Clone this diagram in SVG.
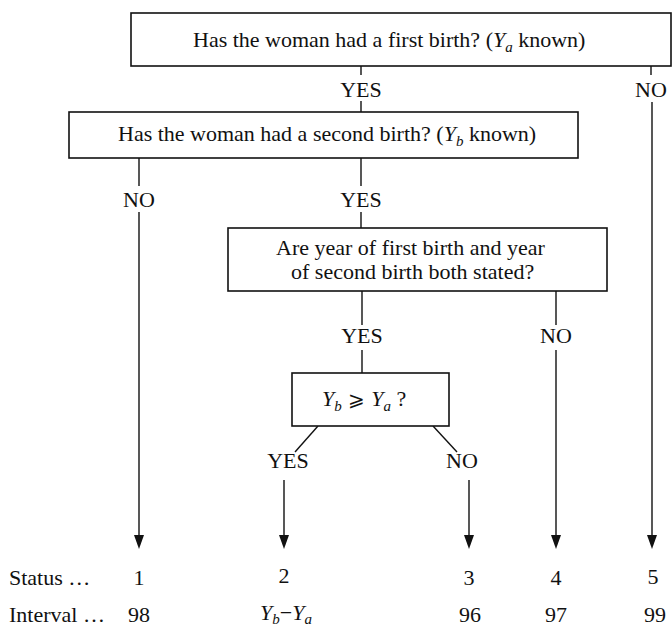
<svg xmlns="http://www.w3.org/2000/svg" width="672" height="629" viewBox="0 0 672 629">
<defs>
<style>
text{font-family:"Liberation Serif","Times New Roman",serif;font-size:22px;fill:#111}
.m{text-anchor:middle}
.i{font-style:italic}
.box{fill:#fff;stroke:#111;stroke-width:1.6}
.ln{stroke:#111;stroke-width:1.4;fill:none}
.hd{fill:#111}
</style>
</defs>
<rect width="672" height="629" fill="#fff"/>
<g id="connectors">
<line class="ln" x1="361" y1="66" x2="361" y2="75"/>
<line class="ln" x1="651" y1="66" x2="651" y2="75"/>
<line class="ln" x1="361" y1="101" x2="361" y2="112"/>
<line class="ln" x1="139" y1="158" x2="139" y2="186"/>
<line class="ln" x1="361" y1="158" x2="361" y2="186"/>
<line class="ln" x1="361" y1="212" x2="361" y2="228"/>
<line class="ln" x1="362" y1="291" x2="362" y2="325"/>
<line class="ln" x1="556" y1="291" x2="556" y2="325"/>
<line class="ln" x1="362" y1="350" x2="362" y2="373"/>
<line class="ln" x1="318" y1="426" x2="295" y2="452"/>
<line class="ln" x1="433" y1="426" x2="457" y2="452"/>
<path class="ln" d="M139,212 V536"/>
<path class="hd" d="M134,535 L144,535 L139,549 Z"/>
<path class="ln" d="M284,480 V536"/>
<path class="hd" d="M279,535 L289,535 L284,549 Z"/>
<path class="ln" d="M469,480 V536"/>
<path class="hd" d="M464,535 L474,535 L469,549 Z"/>
<path class="ln" d="M556,350 V536"/>
<path class="hd" d="M551,535 L561,535 L556,549 Z"/>
<path class="ln" d="M652,102 V536"/>
<path class="hd" d="M647,535 L657,535 L652,549 Z"/>
</g>
<g id="q1">
<rect class="box" x="131" y="13" width="540" height="53"/>
<text x="193" y="47">Has the woman had a first birth? (<tspan class="i">Y</tspan><tspan class="i" font-size="15" dy="5">a</tspan><tspan dy="-5"> known)</tspan></text>
</g>
<g id="q2">
<rect class="box" x="69" y="112" width="509" height="46"/>
<text x="118" y="141">Has the woman had a second birth? (<tspan class="i">Y</tspan><tspan class="i" font-size="15" dy="5">b</tspan><tspan dy="-5"> known)</tspan></text>
</g>
<g id="q3">
<rect class="box" x="228" y="228" width="379" height="63"/>
<text x="276" y="255">Are year of first birth and year</text>
<text x="291" y="279">of second birth both stated?</text>
</g>
<g id="q4">
<rect class="box" x="292" y="373" width="157" height="53"/>
<text x="322" y="406"><tspan class="i">Y</tspan><tspan class="i" font-size="15" dy="5">b</tspan><tspan dy="-5" font-family="DejaVu Serif, DejaVu Sans, serif" font-size="20"> ⩾ </tspan><tspan class="i">Y</tspan><tspan class="i" font-size="15" dy="5">a</tspan><tspan dy="-5"> ?</tspan></text>
</g>
<g id="labels">
<text class="m" x="361" y="97">YES</text>
<text class="m" x="651" y="97">NO</text>
<text class="m" x="139" y="207">NO</text>
<text class="m" x="361" y="207">YES</text>
<text class="m" x="362" y="343">YES</text>
<text class="m" x="556" y="343">NO</text>
<text class="m" x="288" y="468">YES</text>
<text class="m" x="462" y="468">NO</text>
</g>
<g id="status">
<text x="9" y="585">Status …</text>
<text class="m" x="139" y="585">1</text>
<text class="m" x="284" y="583">2</text>
<text class="m" x="469" y="585">3</text>
<text class="m" x="556" y="585">4</text>
<text class="m" x="653" y="584">5</text>
</g>
<g id="interval">
<text x="9" y="622">Interval …</text>
<text class="m" x="139" y="622">98</text>
<text x="260" y="620"><tspan class="i">Y</tspan><tspan class="i" font-size="15" dy="4">b</tspan><tspan dy="-4">−</tspan><tspan class="i">Y</tspan><tspan class="i" font-size="15" dy="4">a</tspan></text>
<text class="m" x="470" y="622">96</text>
<text class="m" x="556" y="622">97</text>
<text class="m" x="655" y="622">99</text>
</g>
</svg>
